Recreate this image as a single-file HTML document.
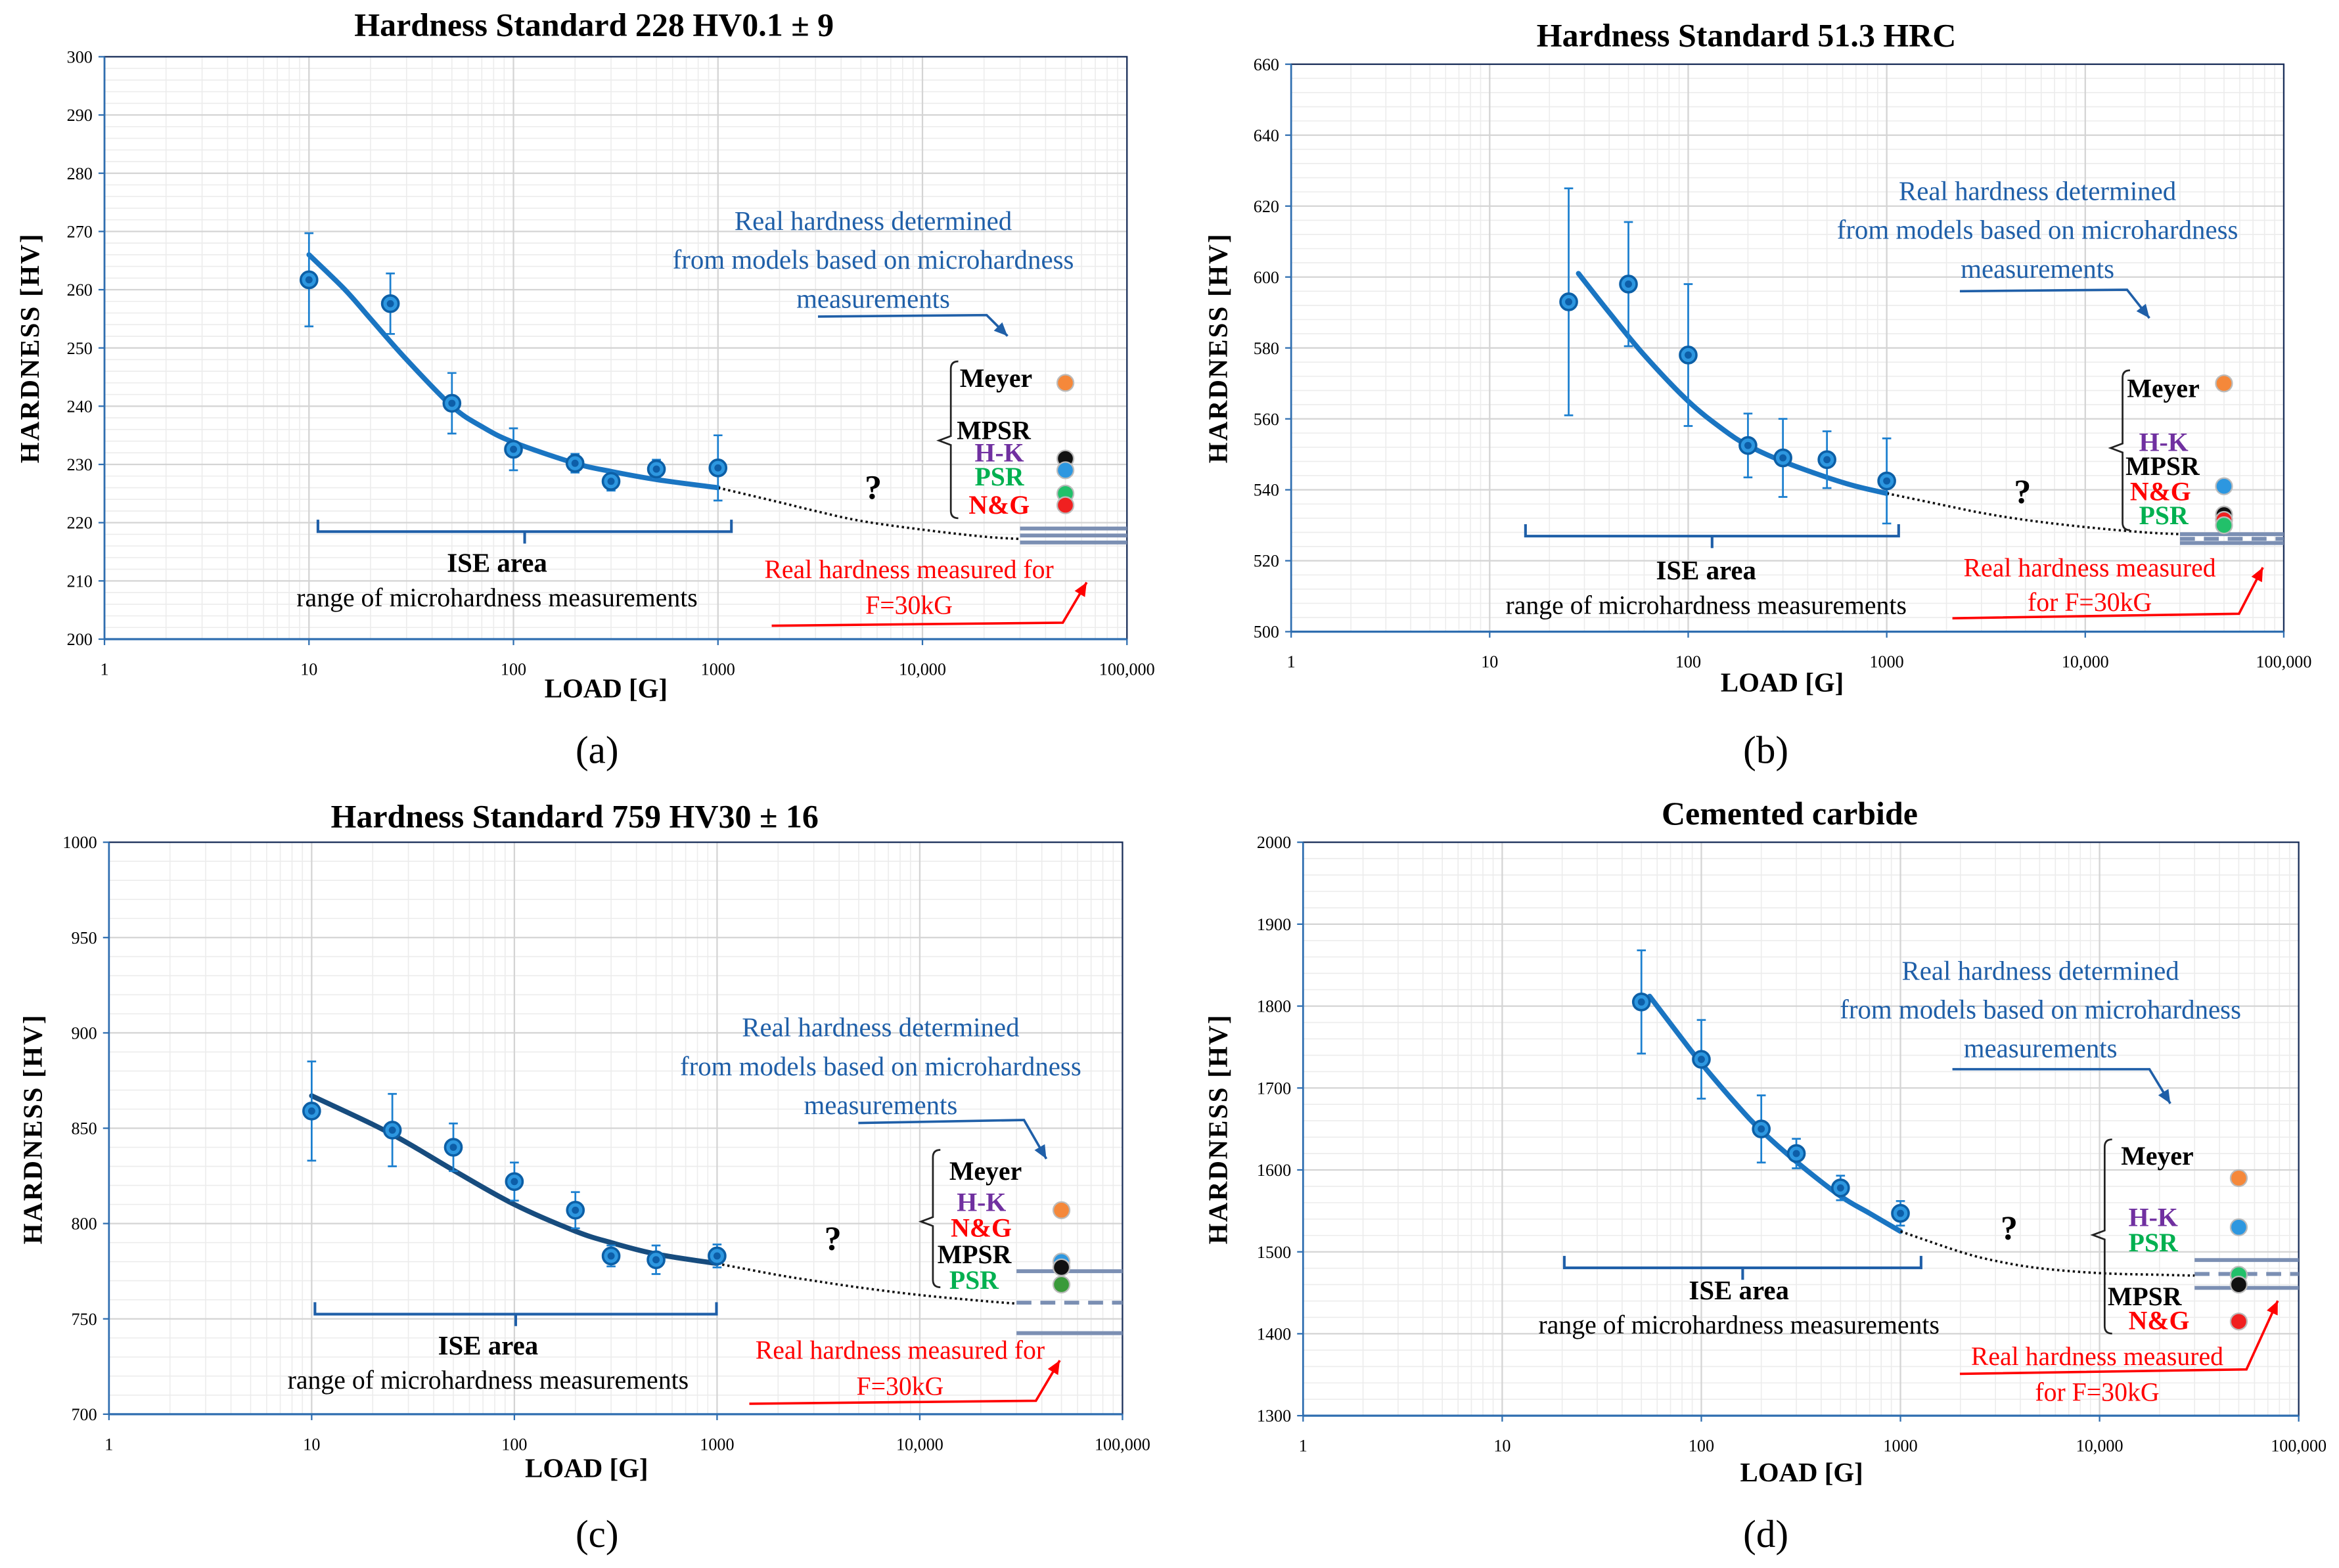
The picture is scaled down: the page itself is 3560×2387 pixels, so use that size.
<!DOCTYPE html>
<html><head><meta charset="utf-8">
<style>
html,body{margin:0;padding:0;background:#fff;}
svg{display:block;}
svg text{font-family:"Liberation Serif","DejaVu Serif",serif !important;}
</style></head>
<body>
<svg id="fig" xmlns="http://www.w3.org/2000/svg" width="3560" height="2387" viewBox="0 0 1567 1050" preserveAspectRatio="none" font-family="Liberation Serif, serif">
<rect width="1567" height="1050" fill="#fff"/>
</svg>
<script>
// Panel (a) data
const aLoads = [10, 25, 50, 100, 200, 300, 500, 1000];
const aHV = [261.7, 257.6, 240.5, 232.6, 230.2, 227.1, 229.2, 229.4];
const aErr = [8, 5.2, 5.2, 3.6, 1.6, 1.6, 1.6, 5.6];
const aFitLoads = [10, 15, 20, 30, 50, 70, 100, 200, 300, 500, 1000];
const aFitHV = [266, 260, 255, 248, 240, 236.5, 233.8, 230.2, 228.8, 227.4, 226];
const aExtLoads = [1000, 2000, 3000, 5000, 10000, 20000, 30000];
const aExtHV = [226, 223.5, 222, 220.3, 218.8, 217.6, 217.2];
const aRefLines = [219, 217.8, 216.6];
const aModelHV = [244, 231, 229, 225, 223];
const aYTicks = [200, 210, 220, 230, 240, 250, 260, 270, 280, 290, 300];

// Panel (b) data
const bLoads = [25, 50, 100, 200, 300, 500, 1000];
const bHV = [593, 598, 578, 552.5, 549, 548.5, 542.5];
const bErr = [32, 17.5, 20, 9, 11, 8, 12];
const bFitLoads = [28, 40, 60, 100, 150, 200, 300, 500, 700, 1000];
const bFitHV = [601, 590, 578, 565, 557, 552.5, 548, 543.5, 541, 539];
const bExtLoads = [1000, 2000, 3000, 5000, 10000, 20000, 30000];
const bExtHV = [539, 535.5, 533.5, 531.5, 529.5, 528, 527.5];
const bRefLines = [527.5, 526.2, 525];
const bModelHV = [570, 541, 533, 531.5, 530];
const bYTicks = [500, 520, 540, 560, 580, 600, 620, 640, 660];

// Panel (c) data
const cLoads = [10, 25, 50, 100, 200, 300, 500, 1000];
const cHV = [859, 849, 840, 822, 807, 783, 781, 783];
const cErr = [26, 19, 12.5, 10, 9.5, 5.5, 7.5, 6];
const cFitLoads = [10, 20, 30, 50, 100, 200, 300, 500, 1000];
const cFitHV = [867, 852, 842, 828, 810, 796, 790, 784, 779];
const cExtLoads = [1000, 2000, 3000, 5000, 10000, 20000, 30000];
const cExtHV = [779, 773, 770, 766.5, 762.5, 759.5, 758];
const cRefLines = [775, 758.5, 742.5];
const cModelHV = [807, 780, 777, 768];
const cYTicks = [700, 750, 800, 850, 900, 950, 1000];

// Panel (d) data
const dLoads = [50, 100, 200, 300, 500, 1000];
const dHV = [1805, 1735, 1650, 1620, 1578, 1547];
const dErr = [63, 48, 41, 18, 15, 15];
const dFitLoads = [55, 80, 100, 150, 200, 300, 500, 700, 1000];
const dFitHV = [1812, 1760, 1730, 1680, 1648, 1610, 1568, 1547, 1525];
const dExtLoads = [1000, 2000, 3000, 5000, 10000, 20000, 30000];
const dExtHV = [1525, 1500, 1489, 1480, 1474, 1472, 1471];
const dRefLines = [1490, 1473, 1456];
const dModelHV = [1590, 1530, 1472, 1460, 1415];
const dYTicks = [1300, 1400, 1500, 1600, 1700, 1800, 1900, 2000];

const xTickVals = [1, 10, 100, 1000, 10000, 100000];
const xTickLabels = ["1", "10", "100", "1000", "10,000", "100,000"];

const NS = "http://www.w3.org/2000/svg";
const svg = document.getElementById("fig");
function mk(tag, attrs, parent, txt) {
  const e = document.createElementNS(NS, tag);
  for (const k in attrs) e.setAttribute(k, attrs[k]);
  if (txt !== undefined) e.textContent = txt;
  (parent || svg).appendChild(e);
  return e;
}
function txt(x, y, s, size, opts, parent, name) {
  opts = opts || {};
  const t = mk("text", {x: x, y: y, "font-size": size, fill: opts.fill || "#000",
    "font-family": "Liberation Serif, serif",
    "text-anchor": opts.anchor || "middle", "font-weight": opts.bold ? "bold" : "normal"}, parent, s);
  if (opts.tf) t.setAttribute("transform", opts.tf);
  if (opts.ls) t.setAttribute("letter-spacing", opts.ls);
  
  
  return t;
}
function smooth(P) {
  let d = `M${P[0][0]},${P[0][1]}`;
  for (let i = 0; i < P.length - 1; i++) {
    const p0 = P[i - 1] || P[i], p1 = P[i], p2 = P[i + 1], p3 = P[i + 2] || p2;
    d += `C${p1[0] + (p2[0] - p0[0]) / 6},${p1[1] + (p2[1] - p0[1]) / 6} ${p2[0] - (p3[0] - p1[0]) / 6},${p2[1] - (p3[1] - p1[1]) / 6} ${p2[0]},${p2[1]}`;
  }
  return d;
}

function panel(p) {
  const g = mk("g", {});
  
  
  const X = v => p.x0 + Math.log10(v) * (p.x1 - p.x0) / 5;
  const Y = v => p.y1 - (v - p.ymin) / (p.ymax - p.ymin) * (p.y1 - p.y0);
  const grid = mk("g", {}, g);
  
  
  for (let d = 0; d < 5; d++) for (let m = 2; m < 10; m++) {
    const xv = X(Math.pow(10, d) * m);
    mk("line", {x1: xv, x2: xv, y1: p.y0, y2: p.y1, stroke: "#ececec", "stroke-width": 0.7}, grid);
  }
  const step = p.yTicks[1] - p.yTicks[0];
  for (let i = 0; i < p.yTicks.length - 1; i++) for (let k = 1; k < 5; k++) {
    const yv = Y(p.yTicks[i] + step * k / 5);
    mk("line", {x1: p.x0, x2: p.x1, y1: yv, y2: yv, stroke: "#ececec", "stroke-width": 0.7}, grid);
  }
  xTickVals.forEach(v => { const xv = X(v); mk("line", {x1: xv, x2: xv, y1: p.y0, y2: p.y1, stroke: "#d4d4d4", "stroke-width": 1}, grid); });
  p.yTicks.forEach(v => { const yv = Y(v); mk("line", {x1: p.x0, x2: p.x1, y1: yv, y2: yv, stroke: "#d4d4d4", "stroke-width": 1}, grid); });
  const fr = mk("rect", {x: p.x0, y: p.y0, width: p.x1 - p.x0, height: p.y1 - p.y0, fill: "none", stroke: "#1a2f5a", "stroke-width": 1}, g);
  
  
  mk("line", {x1: p.x0, x2: p.x0, y1: p.y0, y2: p.y1, stroke: "#2f6eb0", "stroke-width": 1.2}, g);
  mk("line", {x1: p.x0, x2: p.x1, y1: p.y1, y2: p.y1, stroke: "#2f6eb0", "stroke-width": 1.4}, g);
  p.yTicks.forEach(v => {
    mk("line", {x1: p.x0 - 4, x2: p.x0, y1: Y(v), y2: Y(v), stroke: "#2f6eb0"}, g);
    txt(p.x0 - 8, Y(v) + 4, String(v), 11.5, {anchor: "end"}, g, 'y-tick-label');
  });
  xTickVals.forEach((v, i) => {
    mk("line", {x1: X(v), x2: X(v), y1: p.y1, y2: p.y1 + 4, stroke: "#2f6eb0"}, g);
    txt(X(v), p.y1 + 24, xTickLabels[i], 11.5, {}, g, 'x-tick-label');
  });
  p.refLines.forEach((v, i) => {
    const l = mk("line", {x1: X(30000), x2: p.x1, y1: Y(v), y2: Y(v), stroke: "#7b8fb3", "stroke-width": 2.6}, g);
    if (p.dashMid && i === 1) l.setAttribute("stroke-dasharray", "10 6");
    
    
  });
  const fit = mk("path", {d: smooth(p.fitLoads.map((v, i) => [X(v), Y(p.fitHV[i])])), fill: "none", stroke: p.fitColor, "stroke-width": 3.4, "stroke-linecap": "round"}, g);
  
  
  const ext = mk("path", {d: smooth(p.extLoads.map((v, i) => [X(v), Y(p.extHV[i])])), fill: "none", stroke: "#111", "stroke-width": 1.6, "stroke-dasharray": "1.5 2"}, g);
  
  
  p.loads.forEach((v, i) => {
    const xv = X(v), hi = Y(p.hv[i] + p.err[i]), lo = Y(p.hv[i] - p.err[i]);
    const eb = mk("path", {d: `M${xv},${hi}V${lo}M${xv-3},${hi}H${xv+3}M${xv-3},${lo}H${xv+3}`, stroke: "#1b7fcf", "stroke-width": 1.2, fill: "none"}, g);
    
    
    const c = mk("circle", {cx: xv, cy: Y(p.hv[i]), r: 5.5, fill: "#2d97e0", stroke: "#0c5fa6", "stroke-width": 1.6}, g);
    
    
    const c2 = mk("circle", {cx: xv, cy: Y(p.hv[i]), r: 2.4, fill: "#0d5ea8"}, g);
    
    
  });
  p.modelHV.forEach((v, i) => {
    const c = mk("circle", {cx: X(50000), cy: Y(v), r: 5.5, fill: p.modelColors[i], stroke: "#bbb", "stroke-width": 1}, g);
    
    
  });
  return {g, X, Y};
}

function annotations(g, a) {
  txt(a.title[0], a.title[1], a.title[2], 22, {bold: true}, g, 'chart-title');
  txt(0, 0, "HARDNESS [HV]", 18, {bold: true, ls: 1, tf: `translate(${a.yt[0]},${a.yt[1]}) rotate(-90)`}, g, 'y-axis-title');
  txt(a.xt[0], a.xt[1], "LOAD [G]", 18, {bold: true}, g, 'x-axis-title');
  ["Real hardness determined", "from models based on microhardness", "measurements"].forEach((s, i) =>
    txt(a.blue[0], a.blue[1] + i * 26, s, 18, {fill: "#1f5fa8"}, g, 'model-annotation'));
  const ar = a.barrow;
  const bp = mk("path", {d: `M${ar[0]},${ar[1]}L${ar[2]},${ar[3]}L${ar[4]},${ar[5]}`, stroke: "#1f5fa8", "stroke-width": 1.6, fill: "none"}, g);
  
  
  const hd = (ax, ay, an, col) => {
    const h = mk("path", {d: `M${ax},${ay}L${ax-9*Math.cos(an)+4*Math.sin(an)},${ay-9*Math.sin(an)-4*Math.cos(an)}L${ax-9*Math.cos(an)-4*Math.sin(an)},${ay-9*Math.sin(an)+4*Math.cos(an)}Z`, fill: col}, g);
    
    
  };
  hd(ar[4], ar[5], Math.atan2(ar[5]-ar[3], ar[4]-ar[2]), "#1f5fa8");
  const b = a.brace;
  const br = mk("path", {d: `M${b[0]+5},${b[1]}Q${b[0]},${b[1]} ${b[0]},${b[1]+5}V${b[2]-3}L${b[0]-8},${b[2]}L${b[0]},${b[2]+3}V${b[3]-5}Q${b[0]},${b[3]} ${b[0]+5},${b[3]}`, stroke: "#222", "stroke-width": 1.2, fill: "none"}, g);
  
  
  a.labels.forEach(l => txt(l[0], l[1], l[2], 17.5, {bold: true, fill: l[3], anchor: "start"}, g, 'legend-entry'));
  txt(a.q[0], a.q[1], "?", 23, {bold: true}, g, 'question-mark');
  const s = a.ise;
  const ib = mk("path", {d: `M${s[0]},${s[2]-8}V${s[2]}H${s[1]}V${s[2]-8}M${(s[0]+s[1])/2},${s[2]}V${s[2]+8}`, stroke: "#1f5fa8", "stroke-width": 1.8, fill: "none"}, g);
  
  
  txt(s[3], s[4], "ISE area", 18, {bold: true}, g, 'ise-label');
  txt(s[3], s[4] + 23, "range of microhardness measurements", 17.5, {}, g, 'ise-sublabel');
  a.red.forEach(r => txt(r[0], r[1], r[2], 17.5, {fill: "#f00"}, g, 'measured-annotation'));
  const ra = a.rarrow;
  const rp = mk("path", {d: `M${ra[0]},${ra[1]}L${ra[2]},${ra[3]}L${ra[4]},${ra[5]}`, stroke: "#f00", "stroke-width": 1.6, fill: "none"}, g);
  
  
  hd(ra[4], ra[5], Math.atan2(ra[5]-ra[3], ra[4]-ra[2]), "#f00");
  txt(a.letter[0], a.letter[1], a.letter[2], 26, {}, g, 'panel-label');
}

const mc5 = ["#f5883a", "#111", "#2d97e0", "#22c06a", "#f02020"];

const pa = panel({name: "panel-a", x0: 70, x1: 755, y0: 38, y1: 428, ymin: 200, ymax: 300, yTicks: aYTicks,
  loads: aLoads, hv: aHV, err: aErr, fitLoads: aFitLoads, fitHV: aFitHV, extLoads: aExtLoads, extHV: aExtHV,
  refLines: aRefLines, dashMid: false, modelHV: aModelHV, modelColors: mc5, fitColor: "#1a75c2"});
annotations(pa.g, {title: [398, 24, "Hardness Standard 228 HV0.1 ± 9"], yt: [26, 233], xt: [406, 467],
  blue: [585, 154], barrow: [548, 212, 661, 211, 675, 225], brace: [637, 242, 295, 347],
  labels: [[643, 259, "Meyer", "#000"], [641, 294, "MPSR", "#000"], [653, 309, "H-K", "#7030a0"], [653, 325, "PSR", "#00b050"], [649, 344, "N&G", "#f00"]],
  q: [585, 334], ise: [213, 490, 356, 333, 383],
  red: [[609, 387, "Real hardness measured for"], [609, 411, "F=30kG"]], rarrow: [517, 419, 712, 417, 728, 390],
  letter: [400, 511, "(a)"]});

const pb = panel({name: "panel-b", x0: 865, x1: 1530, y0: 43, y1: 423, ymin: 500, ymax: 660, yTicks: bYTicks,
  loads: bLoads, hv: bHV, err: bErr, fitLoads: bFitLoads, fitHV: bFitHV, extLoads: bExtLoads, extHV: bExtHV,
  refLines: bRefLines, dashMid: true, modelHV: bModelHV, modelColors: ["#f5883a", "#2d97e0", "#111", "#f02020", "#22c06a"], fitColor: "#1a75c2"});
annotations(pb.g, {title: [1170, 31, "Hardness Standard 51.3 HRC"], yt: [822, 233], xt: [1194, 463],
  blue: [1365, 134], barrow: [1313, 195, 1425, 194, 1440, 213], brace: [1422, 248, 300, 355],
  labels: [[1425, 266, "Meyer", "#000"], [1433, 302, "H-K", "#7030a0"], [1424, 318, "MPSR", "#000"], [1427, 335, "N&G", "#f00"], [1433, 351, "PSR", "#00b050"]],
  q: [1355, 337], ise: [1022, 1272, 359, 1143, 388],
  red: [[1400, 386, "Real hardness measured"], [1400, 409, "for F=30kG"]], rarrow: [1308, 414, 1500, 411, 1516, 380],
  letter: [1183, 511, "(b)"]});

const pc = panel({name: "panel-c", x0: 73, x1: 752, y0: 564, y1: 947, ymin: 700, ymax: 1000, yTicks: cYTicks,
  loads: cLoads, hv: cHV, err: cErr, fitLoads: cFitLoads, fitHV: cFitHV, extLoads: cExtLoads, extHV: cExtHV,
  refLines: cRefLines, dashMid: true, modelHV: cModelHV, modelColors: ["#f5883a", "#2d97e0", "#111", "#3a9a3a"], fitColor: "#174c7e"});
annotations(pc.g, {title: [385, 554, "Hardness Standard 759 HV30 ± 16"], yt: [28, 756], xt: [393, 989],
  blue: [590, 694], barrow: [575, 752, 686, 750, 701, 776], brace: [625, 770, 818, 862],
  labels: [[636, 790, "Meyer", "#000"], [641, 811, "H-K", "#7030a0"], [637, 828, "N&G", "#f00"], [628, 846, "MPSR", "#000"], [636, 863, "PSR", "#00b050"]],
  q: [558, 837], ise: [211, 480, 880, 327, 907],
  red: [[603, 910, "Real hardness measured for"], [603, 934, "F=30kG"]], rarrow: [502, 940, 694, 938, 710, 911],
  letter: [400, 1036, "(c)"]});

const pd = panel({name: "panel-d", x0: 873, x1: 1540, y0: 564, y1: 948, ymin: 1300, ymax: 2000, yTicks: dYTicks,
  loads: dLoads, hv: dHV, err: dErr, fitLoads: dFitLoads, fitHV: dFitHV, extLoads: dExtLoads, extHV: dExtHV,
  refLines: dRefLines, dashMid: true, modelHV: dModelHV, modelColors: ["#f5883a", "#2d97e0", "#22c06a", "#111", "#f02020"], fitColor: "#1a75c2"});
annotations(pd.g, {title: [1199, 552, "Cemented carbide"], yt: [822, 756], xt: [1207, 992],
  blue: [1367, 656], barrow: [1308, 716, 1440, 716, 1454, 739], brace: [1410, 763, 827, 893],
  labels: [[1421, 780, "Meyer", "#000"], [1426, 821, "H-K", "#7030a0"], [1426, 838, "PSR", "#00b050"], [1412, 874, "MPSR", "#000"], [1426, 890, "N&G", "#f00"]],
  q: [1346, 830], ise: [1048, 1287, 849, 1165, 870],
  red: [[1405, 914, "Real hardness measured"], [1405, 938, "for F=30kG"]], rarrow: [1313, 920, 1505, 917, 1526, 871],
  letter: [1183, 1036, "(d)"]});
</script>
</body></html>
